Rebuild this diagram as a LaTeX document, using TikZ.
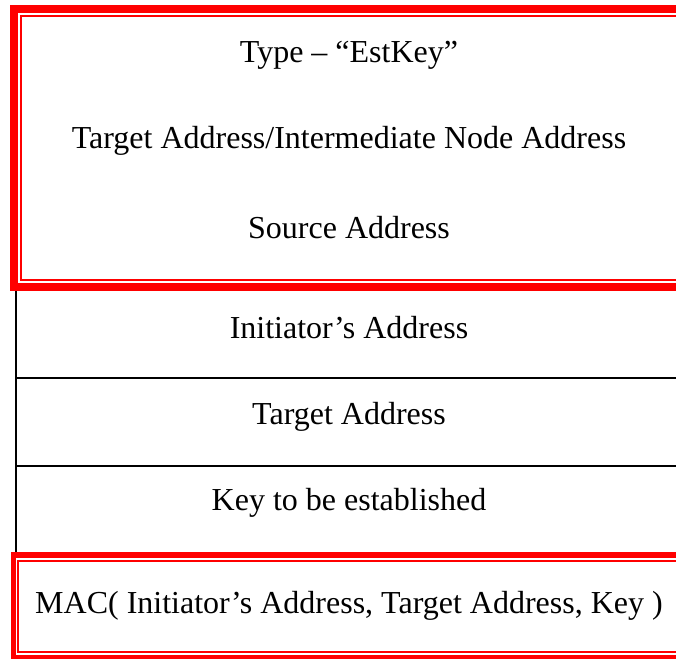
\documentclass[tikz,border=0pt]{standalone}
\usepackage{fontspec}
\setmainfont{Liberation Serif}
\begin{document}
\begin{tikzpicture}[x=1pt,y=-1pt,
  lbl/.style={font=\fontsize{32}{38}\selectfont, inner sep=0pt, anchor=center},
  thickred/.style={draw=red, line width=8pt},
  thinred/.style={draw=red, line width=2pt},
  rowline/.style={draw=black, line width=2.5pt}]
\useasboundingbox (0,0) rectangle (676,658);
\clip (0,0) rectangle (676,658);
\fill[white] (0,0) rectangle (676,658);
% top header box
\draw[thickred] (14,9) rectangle (720,287);
\draw[thinred] (21,16) rectangle (710,280);
% body
\draw[rowline] (16,291) -- (16,553);
\draw[rowline] (16,378) -- (700,378);
\draw[rowline] (16,466) -- (700,466);
% bottom MAC box
\draw[draw=red, line width=5.5pt] (13.5,555) rectangle (720,657.5);
\draw[thinred] (18,561) rectangle (710,652);
% texts
\node[lbl] (type) at (349,55) {Type – “EstKey”};
\node[lbl] (tgt) at (349,141) {Target Address/Intermediate Node Address};
\node[lbl] (src) at (349,228) {Source Address};
\node[lbl] (init) at (349,328) {Initiator’s Address};
\node[lbl] (tgt2) at (349,417) {Target Address};
\node[lbl] (key) at (349,503) {Key to be established};
\node[lbl] (mac) at (349,606) {MAC( Initiator’s Address, Target Address, Key )};
\end{tikzpicture}
\end{document}
